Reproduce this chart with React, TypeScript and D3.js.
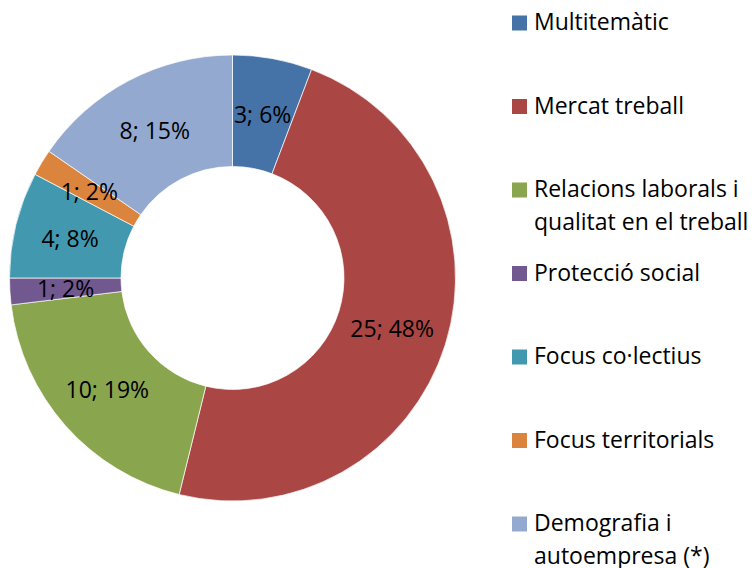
import React from "react";
import * as d3 from "d3";

const categories = [
  "Multitemàtic",
  "Mercat treball",
  "Relacions laborals i qualitat en el treball",
  "Protecció social",
  "Focus co·lectius",
  "Focus territorials",
  "Demografia i autoempresa (*)",
];
const legendLines = [
  ["Multitemàtic"],
  ["Mercat treball"],
  ["Relacions laborals i", "qualitat en el treball"],
  ["Protecció social"],
  ["Focus co·lectius"],
  ["Focus territorials"],
  ["Demografia i", "autoempresa (*)"],
];
const values = [3, 25, 10, 1, 4, 1, 8];
const colors = ["#4572A7", "#AA4643", "#89A54E", "#71588F", "#4198AF", "#DB843D", "#93A9CF"];

const width = 754;
const height = 568;
const cx = 232.5;
const cy = 278;
const outerR = 223;
const innerR = 111.5;
const font = "'Open Sans', Lato, sans-serif";
const fontSize = 23;

export default function App() {
  const total = d3.sum(values);
  const pie = d3
    .pie<number>()
    .sort(null)
    .value((d) => d);
  const arcs = pie(values);
  const arc = d3.arc<d3.PieArcDatum<number>>().innerRadius(innerR).outerRadius(outerR);
  const labelArc = d3
    .arc<d3.PieArcDatum<number>>()
    .innerRadius((innerR + outerR) / 2)
    .outerRadius((innerR + outerR) / 2);

  const legendY = d3
    .scaleLinear()
    .domain([0, categories.length - 1])
    .range([30, 531]);

  return (
    <svg
      width={width}
      height={height}
      style={{ position: "absolute", left: 0, top: 0, background: "#fff", fontVariantLigatures: "none" }}
      fontFamily={font}
    >
      <g transform={`translate(${cx},${cy})`}>
        {arcs.map((a, i) => (
          <path key={i} d={arc(a) || ""} fill={colors[i]} stroke="#fff" strokeWidth={0.7} />
        ))}
        {arcs.map((a, i) => {
          const [x, y] = labelArc.centroid(a);
          return (
            <text
              key={i}
              x={x}
              y={y}
              textAnchor="middle"
              dominantBaseline="central"
              fontSize={fontSize}
              fill="#000"
            >
              {`${values[i]}; ${Math.round((values[i] / total) * 100)}%`}
            </text>
          );
        })}
      </g>
      <g>
        {legendLines.map((lines, i) => {
          const y = legendY(i);
          return (
            <g key={i}>
              <rect x={512} y={y - 14.5} width={15} height={15} fill={colors[i]} />
              {lines.map((t, j) => (
                <text key={j} x={534} y={y + j * 32.5} fontSize={fontSize} fill="#000">
                  {t}
                </text>
              ))}
            </g>
          );
        })}
      </g>
    </svg>
  );
}
